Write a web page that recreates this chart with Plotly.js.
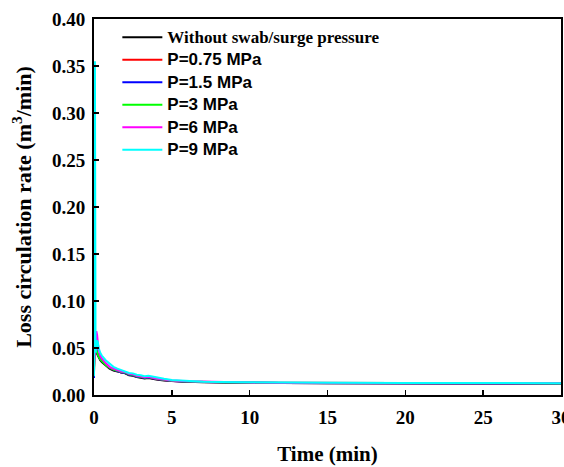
<!DOCTYPE html>
<html>
<head>
<meta charset="utf-8">
<script src="https://cdn.plot.ly/plotly-3.0.1.min.js"></script>
<style>
  html, body { margin: 0; padding: 0; background: #fff; }
  #chart { width: 564px; height: 467px; }
</style>
</head>
<body>
<div id="chart"></div>
<script>
// Loss circulation rate over time for different swab/surge pressures
const time = [0, 0.03, 0.06, 0.1, 0.15, 0.2, 0.25, 0.3, 0.4, 0.5, 0.75, 1, 1.25, 1.5, 1.75, 2, 2.25, 2.5, 2.75, 3, 3.25, 3.5, 3.75, 4, 4.5, 5, 6, 7, 8, 10, 12, 15, 20, 25, 30];

const rateBase  = [0.028, 0.062, 0.056, 0.050, 0.046, 0.044, 0.042, 0.040, 0.037, 0.035, 0.031, 0.028, 0.026, 0.025, 0.0235, 0.023, 0.021, 0.0205, 0.019, 0.0185, 0.0175, 0.018, 0.017, 0.0165, 0.0155, 0.0148, 0.014, 0.0135, 0.0132, 0.0129, 0.0127, 0.0125, 0.0123, 0.0122, 0.0121];
const rateP075  = [0.022, 0.060, 0.057, 0.051, 0.047, 0.045, 0.043, 0.041, 0.038, 0.036, 0.032, 0.029, 0.027, 0.0255, 0.024, 0.0235, 0.0215, 0.021, 0.0195, 0.019, 0.018, 0.0185, 0.0175, 0.017, 0.016, 0.015, 0.0142, 0.0137, 0.0133, 0.013, 0.0128, 0.0126, 0.0124, 0.0123, 0.0122];
const rateP15   = [0.018, 0.078, 0.070, 0.055, 0.048, 0.045, 0.043, 0.041, 0.038, 0.036, 0.032, 0.029, 0.027, 0.0255, 0.024, 0.0235, 0.0215, 0.021, 0.0195, 0.019, 0.018, 0.0185, 0.0175, 0.017, 0.016, 0.015, 0.0142, 0.0137, 0.0133, 0.013, 0.0128, 0.0126, 0.0124, 0.0123, 0.0122];
const rateP3    = [0.025, 0.050, 0.052, 0.050, 0.047, 0.045, 0.043, 0.041, 0.038, 0.036, 0.032, 0.029, 0.027, 0.026, 0.0245, 0.024, 0.022, 0.0215, 0.020, 0.0195, 0.0185, 0.019, 0.018, 0.0172, 0.0162, 0.0152, 0.0143, 0.0138, 0.0134, 0.0131, 0.0129, 0.0127, 0.0125, 0.0124, 0.0123];
const rateP6    = [0.030, 0.048, 0.055, 0.062, 0.068, 0.064, 0.055, 0.048, 0.042, 0.039, 0.034, 0.030, 0.028, 0.0265, 0.025, 0.0245, 0.0225, 0.022, 0.0205, 0.020, 0.019, 0.0195, 0.0185, 0.0175, 0.0165, 0.0155, 0.0145, 0.014, 0.0136, 0.0132, 0.013, 0.0128, 0.0126, 0.0125, 0.0124];
const rateP9    = [0.020, 0.200, 0.355, 0.045, 0.052, 0.058, 0.056, 0.050, 0.045, 0.042, 0.037, 0.033, 0.030, 0.028, 0.0265, 0.0255, 0.0235, 0.023, 0.0215, 0.021, 0.020, 0.0205, 0.0195, 0.0185, 0.0172, 0.016, 0.0148, 0.0142, 0.0138, 0.0134, 0.0132, 0.013, 0.0128, 0.0127, 0.0126];

const seriesLabels = ['Without swab/surge pressure', 'P=0.75 MPa', 'P=1.5 MPa', 'P=3 MPa', 'P=6 MPa', 'P=9 MPa'];
const seriesValues = [rateBase, rateP075, rateP15, rateP3, rateP6, rateP9];
const seriesColors = ['#000000', '#ff0000', '#0000ff', '#00ff00', '#ff00ff', '#00ffff'];

// first legend entry is set in a serif face, the pressure entries in sans
const serifCss = "font-family:'Liberation Serif','Times New Roman',serif";
const legendName = (label, i) => i === 0
  ? `<span style="${serifCss};font-size:17px">${label}</span>`
  : `<span style="font-size:17px">${label}</span>`;

const traces = seriesValues.map((vals, i) => ({
  x: time,
  y: vals,
  type: 'scatter',
  mode: 'lines',
  name: legendName(seriesLabels[i], i),
  line: { color: seriesColors[i], width: 2 }
}));

const serif = "'Liberation Serif', 'Times New Roman', serif";

const layout = {
  width: 564,
  height: 467,
  margin: { l: 93.5, r: 3, t: 19, b: 72 },
  paper_bgcolor: '#ffffff',
  plot_bgcolor: '#ffffff',
  showlegend: true,
  legend: {
    x: 0.05, y: 0.995, xanchor: 'left', yanchor: 'top',
    bgcolor: 'rgba(0,0,0,0)',
    font: { family: "'Liberation Sans', Arial, sans-serif", size: 15, color: '#000', weight: 'bold' },
    tracegroupgap: 0,
    itemwidth: 40
  },
  xaxis: {
    range: [0, 30],
    tickvals: [0, 5, 10, 15, 20, 25, 30],
    ticktext: ['0', '5', '10', '15', '20', '25', '30'],
    ticks: 'inside', ticklen: 5, tickwidth: 1.5, tickcolor: '#000',
    showline: true, linecolor: '#000', linewidth: 2, mirror: true,
    showgrid: false, zeroline: false,
    ticklabelstandoff: 4,
    ticklabeloverflow: 'allow',
    tickfont: { family: serif, size: 19, color: '#000', weight: 'bold' },
    title: { text: 'Time (min)', font: { family: serif, size: 21, color: '#000', weight: 'bold' }, standoff: 20 }
  },
  yaxis: {
    range: [0, 0.40],
    tickvals: [0, 0.05, 0.10, 0.15, 0.20, 0.25, 0.30, 0.35, 0.40],
    tickformat: '.2f',
    ticks: 'inside', ticklen: 5, tickwidth: 1.5, tickcolor: '#000',
    showline: true, linecolor: '#000', linewidth: 2, mirror: true,
    showgrid: false, zeroline: false,
    ticklabelstandoff: 3,
    tickfont: { family: serif, size: 19, color: '#000', weight: 'bold' },
    title: { text: 'Loss circulation rate (m<sup>3</sup>/min)', font: { family: serif, size: 22, color: '#000', weight: 'bold' }, standoff: 14 }
  }
};

Plotly.newPlot('chart', traces, layout, { displayModeBar: false, staticPlot: true });
</script>
</body>
</html>
